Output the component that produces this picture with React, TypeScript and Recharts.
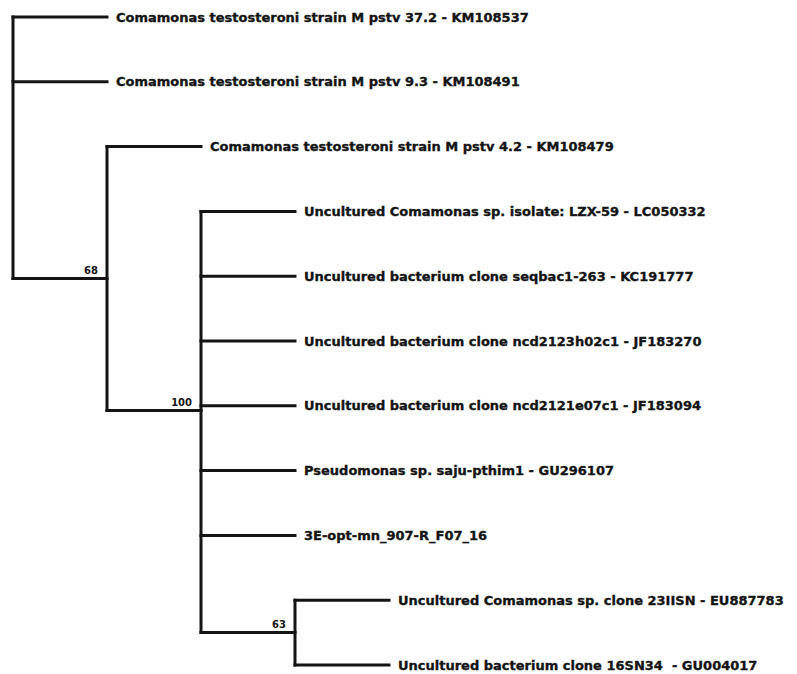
import { ComposedChart, Line, Scatter, XAxis, YAxis } from "recharts"

// leaves, top to bottom
const leafNames = [
  "Comamonas testosteroni strain M pstv 37.2 - KM108537",
  "Comamonas testosteroni strain M pstv 9.3 - KM108491",
  "Comamonas testosteroni strain M pstv 4.2 - KM108479",
  "Uncultured Comamonas sp. isolate: LZX-59 - LC050332",
  "Uncultured bacterium clone seqbac1-263 - KC191777",
  "Uncultured bacterium clone ncd2123h02c1 - JF183270",
  "Uncultured bacterium clone ncd2121e07c1 - JF183094",
  "Pseudomonas sp. saju-pthim1 - GU296107",
  "3E-opt-mn_907-R_F07_16",
  "Uncultured Comamonas sp. clone 23IISN - EU887783",
  "Uncultured bacterium clone 16SN34  - GU004017",
]
const leafDepths = [1, 1, 2, 3, 3, 3, 3, 3, 3, 4, 4]
const leafParents = [0, 0, 1, 2, 2, 2, 2, 2, 2, 3, 3]

// internal nodes (clades)
const cladeDepths = [0, 1, 2, 3]
const cladeParents = [-1, 0, 1, 2]
const cladeSupport = [null, 68, 100, 63]

const INK = "#141414"

// y of a clade = mean of its children's y (MEGA style layout)
function cladeY(c: number): number {
  const ys: number[] = []
  leafParents.forEach((p, i) => {
    if (p === c) ys.push(i)
  })
  cladeParents.forEach((p, i) => {
    if (p === c) ys.push(cladeY(i))
  })
  return ys.reduce((a, b) => a + b, 0) / ys.length
}

const cladeYs = cladeDepths.map((_, i) => cladeY(i))

// horizontal branches: parent depth -> child depth at child's y
const branches: { x: number; y: number }[][] = [
  ...leafNames.map((_, i) => [
    { x: cladeDepths[leafParents[i]], y: i },
    { x: leafDepths[i], y: i },
  ]),
  ...cladeDepths
    .map((d, i) =>
      cladeParents[i] < 0
        ? null
        : [
            { x: cladeDepths[cladeParents[i]], y: cladeYs[i] },
            { x: d, y: cladeYs[i] },
          ]
    )
    .filter((b): b is { x: number; y: number }[] => b !== null),
]

// vertical connectors spanning each clade's children
const verticals = cladeDepths.map((d, c) => {
  const ys = [
    ...leafParents.map((p, i) => (p === c ? i : null)),
    ...cladeParents.map((p, i) => (p === c ? cladeYs[i] : null)),
  ].filter((v): v is number => v !== null)
  return [
    { x: d, y: Math.min(...ys) },
    { x: d, y: Math.max(...ys) },
  ]
})

const leafPoints = leafNames.map((name, i) => ({ x: leafDepths[i], y: i, name }))
const supportPoints = cladeDepths
  .map((d, i) => ({ x: d, y: cladeYs[i], support: cladeSupport[i] }))
  .filter((p) => p.support !== null)

const LeafLabel = (props: any) => (
  <text
    x={props.cx + 9}
    y={props.cy}
    dominantBaseline="central"
    fontFamily="'DejaVu Sans', sans-serif"
    fontWeight="bold"
    fontSize={13}
    fill={INK}
    stroke={INK}
    strokeWidth={0.35}
    style={{ whiteSpace: "pre" }}
  >
    {props.payload.name}
  </text>
)

const SupportLabel = (props: any) => (
  <text
    x={props.cx - 9}
    y={props.cy - 8}
    textAnchor="end"
    dominantBaseline="central"
    fontFamily="'DejaVu Sans', sans-serif"
    fontWeight="bold"
    fontSize={10}
    fill={INK}
  >
    {props.payload.support}
  </text>
)

export default function App() {
  return (
    <div style={{ position: "absolute", left: 0, top: 0, background: "#fff" }}>
      <ComposedChart
        width={797}
        height={674}
        margin={{ top: 17, right: 32, bottom: 9, left: 13 }}
      >
        <XAxis type="number" dataKey="x" domain={[0, 8]} hide />
        <YAxis type="number" dataKey="y" domain={[0, 10]} reversed hide />

        {[...verticals, ...branches].map((seg, i) => (
          <Line
            key={i}
            data={seg}
            dataKey="y"
            type="linear"
            stroke={INK}
            strokeWidth={3}
            strokeLinecap="square"
            dot={false}
            activeDot={false}
            isAnimationActive={false}
          />
        ))}

        <Scatter data={leafPoints} shape={LeafLabel} isAnimationActive={false} />
        <Scatter data={supportPoints} shape={SupportLabel} isAnimationActive={false} />
      </ComposedChart>
    </div>
  )
}
